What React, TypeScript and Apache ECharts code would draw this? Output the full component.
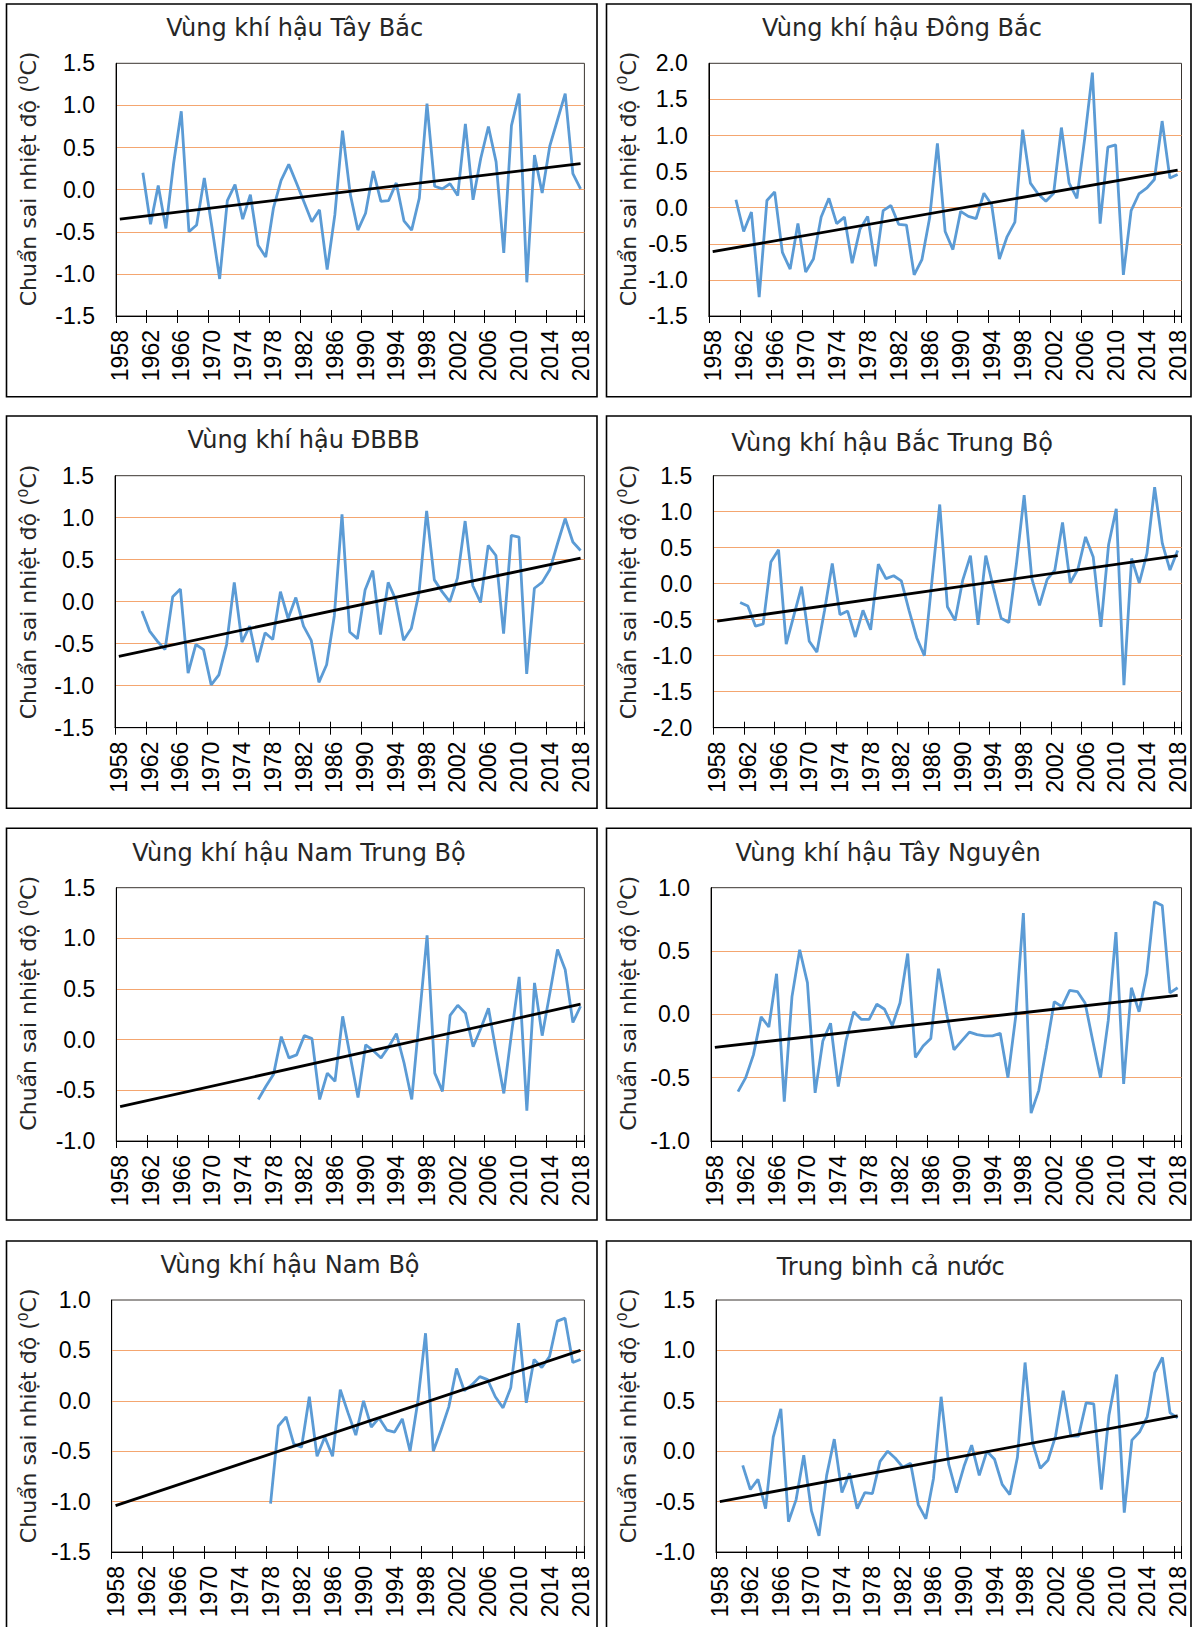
import React, { useEffect, useRef } from 'react';
import * as echarts from 'echarts';

// Year categories shown on every x axis (one band per year)
const years: string[] = Array.from({ length: 61 }, (_, i) => String(1958 + i));

// Temperature anomaly series (°C), each starting at its own first year
const tayBacStart = 1961;
const tayBac = [
  0.20, -0.41, 0.05, -0.46, 0.31, 0.93, -0.50, -0.42, 0.14, -0.45,
  -1.06, -0.13, 0.06, -0.35, -0.06, -0.66, -0.80, -0.22, 0.11, 0.30,
  0.08, -0.15, -0.38, -0.24, -0.95, -0.30, 0.70, -0.05, -0.48, -0.28,
  0.22, -0.14, -0.13, 0.08, -0.37, -0.48, -0.10, 1.02, 0.04, 0.01,
  0.07, -0.07, 0.78, -0.12, 0.37, 0.75, 0.33, -0.75, 0.76, 1.14,
  -1.10, 0.41, -0.04, 0.52, 0.83, 1.14, 0.19, 0.01,
];

const dongBacStart = 1961;
const dongBac = [
  0.11, -0.33, -0.06, -1.24, 0.10, 0.22, -0.62, -0.85, -0.22, -0.89,
  -0.71, -0.13, 0.13, -0.22, -0.13, -0.77, -0.30, -0.12, -0.81, -0.04,
  0.03, -0.23, -0.24, -0.93, -0.72, -0.14, 0.89, -0.33, -0.58, -0.05,
  -0.12, -0.15, 0.20, 0.04, -0.71, -0.40, -0.20, 1.08, 0.34, 0.19,
  0.09, 0.20, 1.11, 0.34, 0.13, 0.95, 1.87, -0.22, 0.84, 0.87,
  -0.93, -0.04, 0.19, 0.27, 0.39, 1.20, 0.41, 0.46,
];

const dbbbStart = 1961;
const dbbb = [
  -0.11, -0.35, -0.47, -0.57, 0.06, 0.15, -0.85, -0.51, -0.57, -0.99,
  -0.87, -0.51, 0.23, -0.48, -0.29, -0.72, -0.37, -0.45, 0.12, -0.20,
  0.05, -0.29, -0.46, -0.96, -0.75, -0.17, 1.04, -0.36, -0.44, 0.14,
  0.37, -0.39, 0.23, 0.02, -0.46, -0.32, 0.10, 1.08, 0.26, 0.12,
  0.00, 0.28, 0.96, 0.19, -0.01, 0.67, 0.55, -0.38, 0.79, 0.77,
  -0.86, 0.16, 0.23, 0.38, 0.69, 0.99, 0.71, 0.61,
];

const bacTrungBoStart = 1961;
const bacTrungBo = [
  -0.26, -0.31, -0.59, -0.56, 0.30, 0.47, -0.84, -0.44, -0.04, -0.80,
  -0.95, -0.37, 0.28, -0.43, -0.38, -0.74, -0.37, -0.64, 0.27, 0.07,
  0.11, 0.04, -0.37, -0.75, -1.00, 0.05, 1.10, -0.32, -0.51, 0.05,
  0.39, -0.57, 0.39, -0.06, -0.48, -0.54, 0.28, 1.23, 0.07, -0.30,
  0.06, 0.19, 0.85, 0.01, 0.20, 0.65, 0.37, -0.60, 0.54, 1.04,
  -1.41, 0.35, 0.01, 0.42, 1.34, 0.56, 0.19, 0.46,
];

const namTrungBoStart = 1976;
const namTrungBo = [
  -0.59, -0.46, -0.34, 0.03, -0.18, -0.15, 0.04, 0.01, -0.59, -0.33,
  -0.41, 0.23, -0.17, -0.57, -0.05, -0.11, -0.18, -0.07, 0.06, -0.23,
  -0.59, 0.22, 1.03, -0.33, -0.51, 0.24, 0.34, 0.26, -0.07, 0.11,
  0.31, -0.12, -0.53, 0.06, 0.62, -0.70, 0.56, 0.04, 0.46, 0.89,
  0.69, 0.17, 0.33,
];

const tayNguyenStart = 1961;
const tayNguyen = [
  -0.61, -0.50, -0.32, -0.02, -0.10, 0.32, -0.69, 0.14, 0.51, 0.25,
  -0.62, -0.21, -0.07, -0.57, -0.21, 0.02, -0.04, -0.04, 0.08, 0.04,
  -0.09, 0.09, 0.48, -0.34, -0.25, -0.19, 0.36, 0.02, -0.28, -0.21,
  -0.14, -0.16, -0.17, -0.17, -0.15, -0.50, -0.02, 0.80, -0.78, -0.60,
  -0.26, 0.10, 0.06, 0.19, 0.18, 0.09, -0.21, -0.50, -0.05, 0.65,
  -0.55, 0.21, 0.02, 0.32, 0.89, 0.86, 0.17, 0.21,
];

const namBoStart = 1978;
const namBo = [
  -1.02, -0.25, -0.16, -0.43, -0.46, 0.04, -0.55, -0.36, -0.55, 0.11,
  -0.12, -0.34, 0.00, -0.26, -0.17, -0.29, -0.31, -0.18, -0.50, -0.01,
  0.67, -0.50, -0.29, -0.06, 0.32, 0.10, 0.16, 0.24, 0.21, 0.04,
  -0.07, 0.13, 0.77, -0.02, 0.41, 0.33, 0.44, 0.79, 0.82, 0.38,
  0.41,
];

const caNuocStart = 1961;
const caNuoc = [
  -0.14, -0.38, -0.28, -0.57, 0.14, 0.42, -0.70, -0.48, -0.04, -0.59,
  -0.84, -0.24, 0.12, -0.41, -0.22, -0.57, -0.41, -0.42, -0.10, 0.00,
  -0.07, -0.16, -0.12, -0.53, -0.67, -0.27, 0.54, -0.13, -0.41, -0.15,
  0.06, -0.24, 0.00, -0.08, -0.33, -0.43, -0.06, 0.88, 0.08, -0.17,
  -0.09, 0.15, 0.60, 0.15, 0.15, 0.48, 0.47, -0.38, 0.36, 0.76,
  -0.61, 0.11, 0.19, 0.34, 0.78, 0.93, 0.38, 0.33,
];

// Linear trend values at 1958 and 2018 for each region
const trendTayBac = [-0.35, 0.31];
const trendDongBac = [-0.61, 0.52];
const trendDbbb = [-0.65, 0.52];
const trendBacTrungBo = [-0.52, 0.39];
const trendNamTrungBo = [-0.66, 0.35];
const trendTayNguyen = [-0.26, 0.15];
const trendNamBo = [-1.04, 0.50];
const trendCaNuoc = [-0.50, 0.35];

// Panel titles
const titles = [
  'Vùng khí hậu Tây Bắc',
  'Vùng khí hậu Đông Bắc',
  'Vùng khí hậu ĐBBB',
  'Vùng khí hậu Bắc Trung Bộ',
  'Vùng khí hậu Nam Trung Bộ',
  'Vùng khí hậu Tây Nguyên',
  'Vùng khí hậu Nam Bộ',
  'Trung bình cả nước',
];

// Y-axis ranges [min, max] per panel (step 0.5)
const yRanges: [number, number][] = [
  [-1.5, 1.5],
  [-1.5, 2.0],
  [-1.5, 1.5],
  [-2.0, 1.5],
  [-1.0, 1.5],
  [-1.0, 1.0],
  [-1.5, 1.0],
  [-1.0, 1.5],
];

const seriesValues = [tayBac, dongBac, dbbb, bacTrungBo, namTrungBo, tayNguyen, namBo, caNuoc];
const seriesStarts = [tayBacStart, dongBacStart, dbbbStart, bacTrungBoStart, namTrungBoStart, tayNguyenStart, namBoStart, caNuocStart];
const trends = [trendTayBac, trendDongBac, trendDbbb, trendBacTrungBo, trendNamTrungBo, trendTayNguyen, trendNamBo, trendCaNuoc];

// Layout (pixels): plot rectangles, title centres, axis-name centres, frames
const plotRects: [number, number, number, number][] = [
  [116, 63.3, 468.4, 252.7],
  [708.8, 63.3, 472.7, 252.7],
  [115, 475.7, 469.4, 252],
  [713.3, 475.7, 468.2, 252],
  [116.3, 887.7, 468.1, 253.3],
  [711, 887.7, 470.5, 253.3],
  [111.7, 1300, 472.7, 252],
  [716, 1300, 465.5, 252],
];
const titlePos: [number, number][] = [
  [294.7, 28.3], [902, 28.3],
  [303.5, 440], [892, 443.3],
  [299, 853.3], [888, 852.7],
  [290, 1265], [890.7, 1266.7],
];
const namePos: [number, number][] = [
  [28.5, 179], [628.3, 179],
  [28.5, 592], [628.3, 592],
  [28.5, 1003.3], [628.3, 1003.3],
  [28.5, 1415.8], [628.3, 1415.8],
];
const frameCols: [number, number][] = [[6.5, 597], [606.5, 1191]];
const frameRows: [number, number][] = [[4, 396.7], [416, 808.3], [828.3, 1220], [1241, 1660]];

const FONT = '"DejaVu Sans", "Liberation Sans", sans-serif';
const TICK_FONT = '"Liberation Sans", Arial, sans-serif';
const BLUE = '#5B9BD5';
const GRID_ORANGE = '#F4A670';

function buildOption() {
  const grid: any[] = [];
  const xAxis: any[] = [];
  const yAxis: any[] = [];
  const series: any[] = [];
  const graphic: any[] = [];

  plotRects.forEach((r, i) => {
    grid.push({
      left: r[0], top: r[1], width: r[2], height: r[3],
      show: true, borderColor: '#3a3530', borderWidth: 1,
      backgroundColor: 'transparent', containLabel: false, outerBoundsMode: 'none',
    });

    // labelled axis with outward ticks
    xAxis.push({
      type: 'category', gridIndex: i, data: years, boundaryGap: true, position: 'bottom',
      axisLine: { show: true, onZero: false, lineStyle: { color: '#000', width: 1 } },
      axisTick: { show: true, interval: 3, inside: false, length: 7, lineStyle: { color: '#000', width: 1 } },
      axisLabel: { show: true, interval: 3, rotate: 90, margin: 14, fontSize: 23, fontFamily: TICK_FONT, color: '#000' },
      splitLine: { show: false },
    });
    // companion axis giving the inward half of the crossing ticks
    xAxis.push({
      type: 'category', gridIndex: i, data: years, boundaryGap: true, position: 'bottom',
      axisLine: { show: false, onZero: false },
      axisTick: { show: true, interval: 3, inside: true, length: 6, lineStyle: { color: '#000', width: 1 } },
      axisLabel: { show: false },
      splitLine: { show: false },
    });

    const [mn, mx] = yRanges[i];
    const nLines = Math.round((mx - mn) / 0.5) + 1;
    const lineColors = Array.from({ length: nLines }, (_, k) =>
      k === 0 || k === nLines - 1 ? 'rgba(0,0,0,0)' : GRID_ORANGE);
    yAxis.push({
      type: 'value', gridIndex: i, min: mn, max: mx, interval: 0.5,
      axisLine: { show: true, lineStyle: { color: '#000', width: 1 } },
      axisTick: { show: false },
      axisLabel: {
        formatter: (v: number) => v.toFixed(1),
        fontSize: 23, fontFamily: TICK_FONT, color: '#000', margin: 21,
      },
      splitLine: { show: true, lineStyle: { color: lineColors, width: 1 } },
    });

    const vals = seriesValues[i];
    const start = seriesStarts[i];
    series.push({
      type: 'line', xAxisIndex: 2 * i, yAxisIndex: i,
      data: vals.map((v, k) => [String(start + k), v]),
      symbol: 'none', showSymbol: false,
      lineStyle: { color: BLUE, width: 2.8 },
      itemStyle: { color: BLUE },
      z: 2,
    });
    const t = trends[i];
    series.push({
      type: 'line', xAxisIndex: 2 * i, yAxisIndex: i,
      data: [[years[0], t[0]], [years[years.length - 1], t[1]]],
      symbol: 'none', showSymbol: false,
      lineStyle: { color: '#000', width: 2.8 },
      itemStyle: { color: '#000' },
      z: 3,
    });

    const col = frameCols[i % 2];
    const row = frameRows[Math.floor(i / 2)];
    graphic.push({
      type: 'rect',
      shape: { x: col[0], y: row[0], width: col[1] - col[0], height: row[1] - row[0] },
      style: { fill: 'none', stroke: '#000', lineWidth: 1.6 },
      silent: true,
    });
    graphic.push({
      type: 'text',
      x: titlePos[i][0], y: titlePos[i][1],
      style: {
        text: titles[i], fill: '#262626',
        font: `24px ${FONT}`, align: 'center', verticalAlign: 'middle',
      },
      silent: true,
    });
    graphic.push({
      type: 'text',
      x: namePos[i][0], y: namePos[i][1], rotation: Math.PI / 2,
      style: {
        text: '{a|Chuẩn sai nhiệt độ (}{s|0}{a|C)}',
        align: 'center', verticalAlign: 'middle',
        rich: {
          a: { fontSize: 22, fontFamily: FONT, fill: '#262626', lineHeight: 26 },
          s: { fontSize: 14, fontFamily: FONT, fill: '#262626', verticalAlign: 'top', lineHeight: 26 },
        },
      },
      silent: true,
    });
  });

  return {
    animation: false,
    backgroundColor: '#fff',
    grid, xAxis, yAxis, series, graphic,
    tooltip: { show: false },
  };
}

export default function App() {
  const ref = useRef<HTMLDivElement>(null);
  useEffect(() => {
    document.body.style.margin = '0';
    if (!ref.current) return;
    const chart = echarts.init(ref.current, undefined, { renderer: 'svg' });
    chart.setOption(buildOption() as any);
    return () => chart.dispose();
  }, []);
  return <div ref={ref} style={{ width: 1192, height: 1627 }} />;
}
